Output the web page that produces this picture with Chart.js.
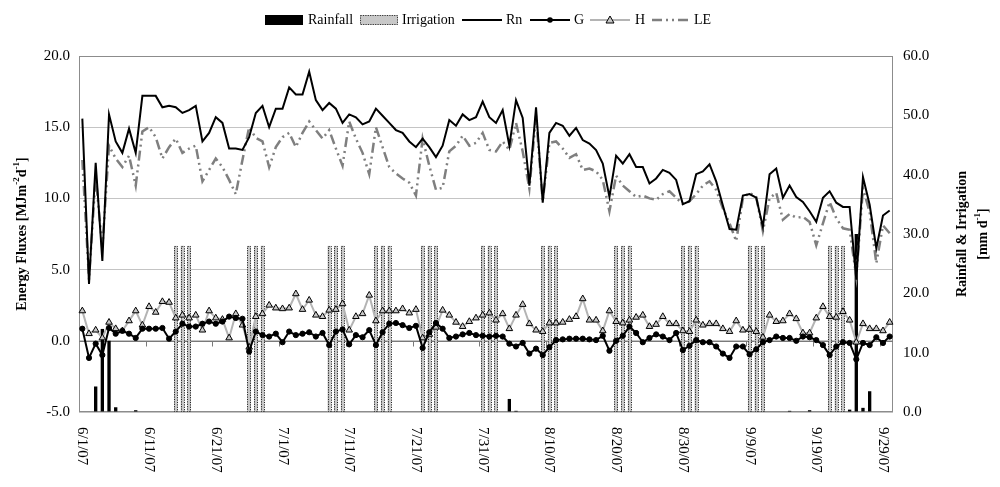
<!DOCTYPE html>
<html>
<head>
<meta charset="utf-8">
<script src="https://cdn.jsdelivr.net/npm/chart.js@4.4.1/dist/chart.umd.min.js"></script>
<style>
  html, body { margin: 0; padding: 0; background: #fff; }
  #wrap { width: 1000px; height: 487px; position: relative; }
</style>
</head>
<body>
<div id="wrap"><canvas id="chart"></canvas></div>
<script>
// daily values, 6/1/07 .. 9/30/07
const dates = [
  '6/1/07','6/2/07','6/3/07','6/4/07','6/5/07','6/6/07','6/7/07','6/8/07','6/9/07','6/10/07',
  '6/11/07','6/12/07','6/13/07','6/14/07','6/15/07','6/16/07','6/17/07','6/18/07','6/19/07','6/20/07',
  '6/21/07','6/22/07','6/23/07','6/24/07','6/25/07','6/26/07','6/27/07','6/28/07','6/29/07','6/30/07',
  '7/1/07','7/2/07','7/3/07','7/4/07','7/5/07','7/6/07','7/7/07','7/8/07','7/9/07','7/10/07',
  '7/11/07','7/12/07','7/13/07','7/14/07','7/15/07','7/16/07','7/17/07','7/18/07','7/19/07','7/20/07',
  '7/21/07','7/22/07','7/23/07','7/24/07','7/25/07','7/26/07','7/27/07','7/28/07','7/29/07','7/30/07',
  '7/31/07','8/1/07','8/2/07','8/3/07','8/4/07','8/5/07','8/6/07','8/7/07','8/8/07','8/9/07',
  '8/10/07','8/11/07','8/12/07','8/13/07','8/14/07','8/15/07','8/16/07','8/17/07','8/18/07','8/19/07',
  '8/20/07','8/21/07','8/22/07','8/23/07','8/24/07','8/25/07','8/26/07','8/27/07','8/28/07','8/29/07',
  '8/30/07','8/31/07','9/1/07','9/2/07','9/3/07','9/4/07','9/5/07','9/6/07','9/7/07','9/8/07',
  '9/9/07','9/10/07','9/11/07','9/12/07','9/13/07','9/14/07','9/15/07','9/16/07','9/17/07','9/18/07',
  '9/19/07','9/20/07','9/21/07','9/22/07','9/23/07','9/24/07','9/25/07','9/26/07','9/27/07','9/28/07',
  '9/29/07','9/30/07'
];
const tickLabels = ['6/1/07','6/11/07','6/21/07','7/1/07','7/11/07','7/21/07','7/31/07',
  '8/10/07','8/20/07','8/30/07','9/9/07','9/19/07','9/29/07'];
const leftTicks = [-5, 0, 5, 10, 15, 20];
const rightTicks = [0, 10, 20, 30, 40, 50, 60];

// MJ m-2 d-1
const rn = [
  15.6, 4.0, 12.5, 5.6, 15.9, 14.0, 13.2, 14.9, 13.2, 17.2,
  17.2, 17.2, 16.4, 16.5, 16.4, 16.0, 16.2, 16.5, 14.0, 14.6,
  15.7, 15.3, 13.5, 13.5, 13.4, 14.3, 16.0, 16.5, 15.0, 16.3,
  16.3, 17.8, 17.3, 17.3, 18.9, 16.9, 16.2, 16.7, 16.3, 15.3,
  15.9, 15.7, 15.2, 15.4, 16.3, 15.8, 15.3, 14.8, 14.6, 14.0,
  13.6, 14.2, 13.6, 12.9, 13.7, 15.5, 15.1, 15.9, 15.5, 15.7,
  16.8, 15.7, 15.3, 16.2, 13.7, 16.9, 15.65, 10.9, 16.4, 9.7,
  14.6, 15.3, 15.1, 14.4, 14.95, 14.1, 13.85, 13.4, 12.45, 10.1,
  13.0, 12.45, 13.1, 12.2, 12.2, 11.05, 11.4, 12.0, 11.8, 11.3,
  9.6, 9.8, 11.7, 11.9, 12.4, 11.2, 9.5, 7.85, 7.8, 10.2,
  10.3, 10.05, 8.0, 11.7, 12.1, 10.05, 10.9, 10.1, 9.75, 9.1,
  8.35, 10.05, 10.5, 9.7, 9.4, 9.4, 4.3, 11.5, 9.55, 6.5,
  8.8, 9.15
];
const g = [
  0.85, -1.2, -0.2, -1.0, 0.9, 0.5, 0.7, 0.5, 0.2, 0.85,
  0.85, 0.85, 0.9, 0.15, 0.65, 1.2, 1.0, 1.0, 1.2, 1.35,
  1.2, 1.35, 1.7, 1.6, 1.55, -0.75, 0.65, 0.4, 0.3, 0.5,
  -0.1, 0.65, 0.4, 0.5, 0.6, 0.3, 0.55, -0.3, 0.65, 0.8,
  -0.25, 0.4, 0.25, 0.75, -0.3, 0.6, 1.2, 1.25, 1.1, 0.9,
  1.05, -0.5, 0.6, 1.25, 0.85, 0.2, 0.3, 0.45, 0.55, 0.4,
  0.35, 0.3, 0.35, 0.3, -0.2, -0.4, -0.15, -0.9, -0.55, -1.0,
  -0.45, 0.05, 0.1, 0.15, 0.15, 0.15, 0.1, 0.05, 0.35, -0.7,
  0.0, 0.35, 1.0, 0.55, -0.1, 0.2, 0.45, 0.3, 0.05, 0.55,
  -0.65, -0.35, 0.05, -0.1, -0.1, -0.4, -0.9, -1.2, -0.4, -0.4,
  -0.95, -0.6, -0.1, 0.05, 0.3, 0.2, 0.2, 0.0, 0.3, 0.25,
  0.05, -0.3, -1.0, -0.4, -0.1, -0.15, -1.3, -0.15, -0.3, 0.25,
  -0.15, 0.3
];
const h = [
  2.1, 0.5, 0.75, 0.2, 1.3, 0.85, 0.7, 1.4, 2.1, 1.1,
  2.4, 2.0, 2.75, 2.7, 1.6, 1.8, 1.6, 1.8, 0.75, 2.1,
  1.6, 1.5, 0.2, 1.9, 1.1, -0.45, 1.7, 1.9, 2.5, 2.3,
  2.25, 2.3, 3.3, 2.2, 2.85, 1.8, 1.7, 2.15, 2.2, 2.6,
  0.75, 1.7, 1.9, 3.2, 1.4, 2.1, 2.1, 2.1, 2.25, 1.95,
  2.2, 0.2, 0.45, 0.95, 2.15, 1.8, 1.3, 1.0, 1.35, 1.6,
  1.8, 1.95, 1.45, 1.9, 0.85, 1.8, 2.55, 1.2, 0.75, 0.65,
  1.25, 1.25, 1.3, 1.5, 1.7, 2.95, 1.45, 1.45, 0.7, 2.1,
  1.35, 1.25, 1.45, 1.65, 1.8, 1.0, 1.15, 1.7, 1.2, 1.2,
  0.7, 0.65, 1.45, 1.1, 1.2, 1.2, 0.85, 0.65, 1.4, 0.75,
  0.8, 0.65, 0.25, 1.8, 1.35, 1.4, 1.9, 1.55, 0.55, 0.55,
  1.6, 2.4, 1.7, 1.65, 2.05, 1.45, -0.1, 1.2, 0.85, 0.85,
  0.7, 1.3
];
const le = [
  12.7, 4.3, 11.6, 6.5, 13.7, 12.8, 12.2, 13.0, 10.9, 14.7,
  15.0, 14.3, 12.8, 13.6, 14.2, 13.2, 13.5, 13.7, 11.2, 12.0,
  12.8, 12.2, 11.3, 10.3, 12.7, 15.0, 14.25, 14.0, 12.2, 13.6,
  14.3, 14.6, 13.6, 14.6, 15.4, 14.8, 14.2, 14.8, 13.5, 12.3,
  15.4, 14.2, 13.2, 11.7, 15.0, 13.6, 12.2, 11.75, 11.4, 11.1,
  10.2, 14.2, 12.3, 10.6, 10.75, 13.3, 13.7, 14.4, 13.7, 13.9,
  14.6, 13.4, 13.3, 14.0, 13.4, 15.3, 13.3, 10.7, 15.8, 9.8,
  13.9, 14.0, 13.5, 12.85, 13.1, 12.0, 12.1, 11.9, 11.3, 9.1,
  11.6, 10.9, 10.5, 10.1, 10.2, 10.0, 9.9, 10.3, 10.5, 10.05,
  9.6, 9.8, 10.3, 10.9, 11.2, 10.6, 9.3, 8.25, 7.0, 10.0,
  10.4, 10.1, 7.7, 10.0, 10.4, 8.5, 8.9, 8.65, 8.7, 8.35,
  6.7, 8.25, 9.75, 8.6, 7.9, 7.8, 4.5, 10.7, 9.05, 5.45,
  8.1, 7.55
];
// mm d-1 (right axis)
const rainfall = [
  0, 0, 4.3, 14, 12, 0.8, 0, 0, 0.3, 0,
  0, 0, 0, 0, 0, 0, 0, 0, 0, 0,
  0, 0, 0, 0, 0, 0, 0, 0, 0, 0,
  0, 0, 0, 0, 0, 0, 0, 0, 0, 0,
  0, 0, 0, 0, 0, 0, 0, 0, 0, 0,
  0, 0, 0, 0, 0, 0, 0, 0, 0, 0,
  0, 0, 0, 0, 2.2, 0.2, 0, 0, 0, 5,
  0, 0, 0, 0, 0, 0, 0, 0, 0, 0,
  0, 0, 0, 0, 0, 0, 0, 0, 0, 0,
  0, 0, 0, 0, 0, 0, 0, 0, 0, 0,
  0, 0, 0, 0, 0, 0, 0.2, 0, 0, 0.3,
  0, 0, 0, 0, 0, 0.4, 30, 0.7, 3.5, 0,
  0, 0
];
const irrigation = [
  0, 0, 0, 0, 0, 0, 0, 0, 0, 0,
  0, 0, 0, 0, 28, 28, 28, 0, 0, 0,
  0, 0, 0, 0, 0, 28, 28, 28, 0, 0,
  0, 0, 0, 0, 0, 0, 0, 28, 28, 28,
  0, 0, 0, 0, 28, 28, 28, 0, 0, 0,
  0, 28, 28, 28, 0, 0, 0, 0, 0, 0,
  28, 28, 28, 0, 0, 0, 0, 0, 0, 28,
  28, 28, 0, 0, 0, 0, 0, 0, 0, 0,
  28, 28, 28, 0, 0, 0, 0, 0, 0, 0,
  28, 28, 28, 0, 0, 0, 0, 0, 0, 0,
  28, 28, 28, 0, 0, 0, 0, 0, 0, 0,
  0, 0, 28, 28, 28, 0, 0, 0, 0, 0,
  0, 0
];

const SERIF = '"Liberation Serif", "Times New Roman", serif';
const IRR_FILL = '#c8c8c8';
const H_LINE = '#b4b4b4';
const LE_LINE = '#7f7f7f';
const LE_DASH = [10, 4, 2, 4, 2, 4];

// text with superscript parts, e.g. [['MJm'], ['-2', true]]
function richWidth(ctx, parts, size){
  let w = 0;
  for (const [t, sup] of parts){
    ctx.font = 'bold ' + (sup ? Math.round(size * 0.65) : size) + 'px ' + SERIF;
    w += ctx.measureText(t).width;
  }
  return w;
}
function drawRich(ctx, parts, x, y, size){
  let cx = x;
  for (const [t, sup] of parts){
    ctx.font = 'bold ' + (sup ? Math.round(size * 0.65) : size) + 'px ' + SERIF;
    ctx.fillText(t, cx, sup ? y - size * 0.38 : y);
    cx += ctx.measureText(t).width;
  }
}
function verticalTitle(ctx, parts, cx, cy, size){
  const w = richWidth(ctx, parts, size);
  ctx.save();
  ctx.translate(cx, cy);
  ctx.rotate(-Math.PI / 2);
  ctx.textBaseline = 'middle';
  ctx.textAlign = 'left';
  drawRich(ctx, parts, -w / 2, 0, size);
  ctx.restore();
}

const extras = {
  id: 'extras',
  beforeDatasetsDraw(chart){
    const { ctx, chartArea: a, scales } = chart;
    ctx.save();
    ctx.strokeStyle = '#8c8c8c';
    ctx.lineWidth = 1;
    ctx.strokeRect(a.left + 0.5, a.top + 0.5, a.right - a.left - 1, a.bottom - a.top - 1);
    // category axis crossing at 0
    const y0 = Math.round(scales.y.getPixelForValue(0)) + 0.5;
    ctx.strokeStyle = '#7a7a7a';
    ctx.beginPath();
    ctx.moveTo(a.left, y0); ctx.lineTo(a.right, y0);
    for (let i = 9.5; i < dates.length; i += 10){
      const px = Math.round(scales.x.getPixelForValue(i)) + 0.5;
      ctx.moveTo(px, y0); ctx.lineTo(px, y0 + 5);
    }
    ctx.stroke();
    ctx.restore();
  },
  afterDatasetDraw(chart, args){
    if (chart.data.datasets[args.index].label !== 'Irrigation') return;
    const ctx = chart.ctx;
    ctx.save();
    ctx.setLineDash([1.2, 1.2]);
    ctx.strokeStyle = '#222';
    ctx.lineWidth = 1;
    args.meta.data.forEach((bar, i) => {
      if (!irrigation[i]) return;
      const p = bar.getProps(['x', 'y', 'base', 'width'], true);
      ctx.strokeRect(Math.round(p.x - p.width / 2) + 0.5, Math.round(p.y) + 0.5,
        Math.round(p.width), Math.round(p.base - p.y) - 1);
    });
    ctx.restore();
  },
  afterDraw(chart){
    const { ctx, chartArea: a, scales } = chart;
    ctx.save();
    ctx.fillStyle = '#000';
    // date labels, rotated clockwise
    ctx.font = '15px ' + SERIF;
    ctx.textAlign = 'left';
    ctx.textBaseline = 'middle';
    for (const lbl of tickLabels){
      const px = scales.x.getPixelForValue(dates.indexOf(lbl));
      ctx.save();
      ctx.translate(px, a.bottom + 15);
      ctx.rotate(Math.PI / 2);
      ctx.fillText(lbl, 0, 0);
      ctx.restore();
    }
    // axis titles
    const cy = (a.top + a.bottom) / 2;
    verticalTitle(ctx, [['Energy Fluxes [MJm'], ['-2', true], ['d'], ['-1', true], [']']], 22, cy, 14);
    verticalTitle(ctx, [['Rainfall & Irrigation']], 962, cy, 14);
    verticalTitle(ctx, [['[mm d'], ['-1', true], [']']], 983, cy, 14);

    // legend
    const ly = 20;
    ctx.font = '14px ' + SERIF;
    ctx.textAlign = 'left';
    ctx.textBaseline = 'middle';
    ctx.fillStyle = '#000';
    ctx.fillRect(265, ly - 5, 38, 10);
    ctx.fillText('Rainfall', 308, ly);
    ctx.fillStyle = IRR_FILL;
    ctx.fillRect(360, ly - 5, 38, 10);
    ctx.setLineDash([1.2, 1.2]);
    ctx.strokeStyle = '#333';
    ctx.lineWidth = 1;
    ctx.strokeRect(360.5, ly - 4.5, 37, 9);
    ctx.setLineDash([]);
    ctx.fillStyle = '#000';
    ctx.fillText('Irrigation', 402, ly);
    const seg = (x0, x1, color, w, dash) => {
      ctx.strokeStyle = color; ctx.lineWidth = w; ctx.setLineDash(dash || []);
      ctx.beginPath(); ctx.moveTo(x0, ly); ctx.lineTo(x1, ly); ctx.stroke();
      ctx.setLineDash([]);
    };
    seg(462, 502, '#000', 2);
    ctx.fillText('Rn', 506, ly);
    seg(530, 570, '#000', 2);
    ctx.beginPath(); ctx.arc(550, ly, 2.8, 0, Math.PI * 2); ctx.fill();
    ctx.fillText('G', 574, ly);
    seg(590, 630, H_LINE, 2);
    ctx.beginPath();
    ctx.moveTo(610, ly - 4); ctx.lineTo(614, ly + 3); ctx.lineTo(606, ly + 3); ctx.closePath();
    ctx.fillStyle = IRR_FILL; ctx.fill();
    ctx.strokeStyle = '#000'; ctx.lineWidth = 1; ctx.stroke();
    ctx.fillStyle = '#000';
    ctx.fillText('H', 635, ly);
    seg(652, 690, LE_LINE, 2.5, LE_DASH);
    ctx.fillText('LE', 694, ly);
    ctx.restore();
  }
};

const lineBase = { type: 'line', yAxisID: 'y', tension: 0, fill: false };

new Chart(document.getElementById('chart'), {
  type: 'bar',
  data: {
    labels: dates,
    datasets: [
      { ...lineBase, label: 'Rn', data: rn, borderColor: '#000', borderWidth: 2, pointRadius: 0, order: 1 },
      { ...lineBase, label: 'G', data: g, borderColor: '#000', borderWidth: 2,
        pointStyle: 'circle', pointRadius: 2.6, pointBorderWidth: 1,
        pointBackgroundColor: '#000', pointBorderColor: '#000', order: 2 },
      { ...lineBase, label: 'H', data: h, borderColor: H_LINE, borderWidth: 2,
        pointStyle: 'triangle', pointRadius: 3.8, pointBackgroundColor: IRR_FILL,
        pointBorderColor: '#000', pointBorderWidth: 1, order: 3 },
      { ...lineBase, label: 'LE', data: le, borderColor: LE_LINE, borderWidth: 2.5,
        borderDash: LE_DASH, pointRadius: 0, order: 4 },
      { label: 'Rainfall', data: rainfall, yAxisID: 'y2', backgroundColor: '#000',
        grouped: false, barPercentage: 0.5, categoryPercentage: 1, order: 11 },
      { label: 'Irrigation', data: irrigation, yAxisID: 'y2', backgroundColor: IRR_FILL,
        grouped: false, barPercentage: 0.5, categoryPercentage: 1, order: 10 }
    ]
  },
  options: {
    responsive: true,
    maintainAspectRatio: false,
    animation: false,
    devicePixelRatio: 1,
    events: [],
    layout: { padding: { top: 56, left: 0, right: 0, bottom: 0 } },
    plugins: { legend: { display: false }, tooltip: { enabled: false } },
    scales: {
      x: {
        offset: true,
        grid: { display: false },
        border: { display: false },
        ticks: { display: false },
        afterFit: s => { s.height = 75; }
      },
      y: {
        position: 'left',
        min: -5, max: 20,
        afterBuildTicks: s => { s.ticks = leftTicks.map(v => ({ value: v })); },
        grid: { color: '#c4c4c4', drawTicks: false },
        border: { display: false },
        ticks: { padding: 9, color: '#000', font: { family: SERIF, size: 15 },
          callback: v => v.toFixed(1) },
        afterFit: s => { s.width = 79; }
      },
      y2: {
        position: 'right',
        min: 0, max: 60,
        afterBuildTicks: s => { s.ticks = rightTicks.map(v => ({ value: v })); },
        grid: { drawOnChartArea: false, drawTicks: false },
        border: { display: false },
        ticks: { padding: 10, color: '#000', font: { family: SERIF, size: 15 },
          callback: v => v.toFixed(1) },
        afterFit: s => { s.width = 107; }
      }
    }
  },
  plugins: [extras]
});
</script>
</body>
</html>
